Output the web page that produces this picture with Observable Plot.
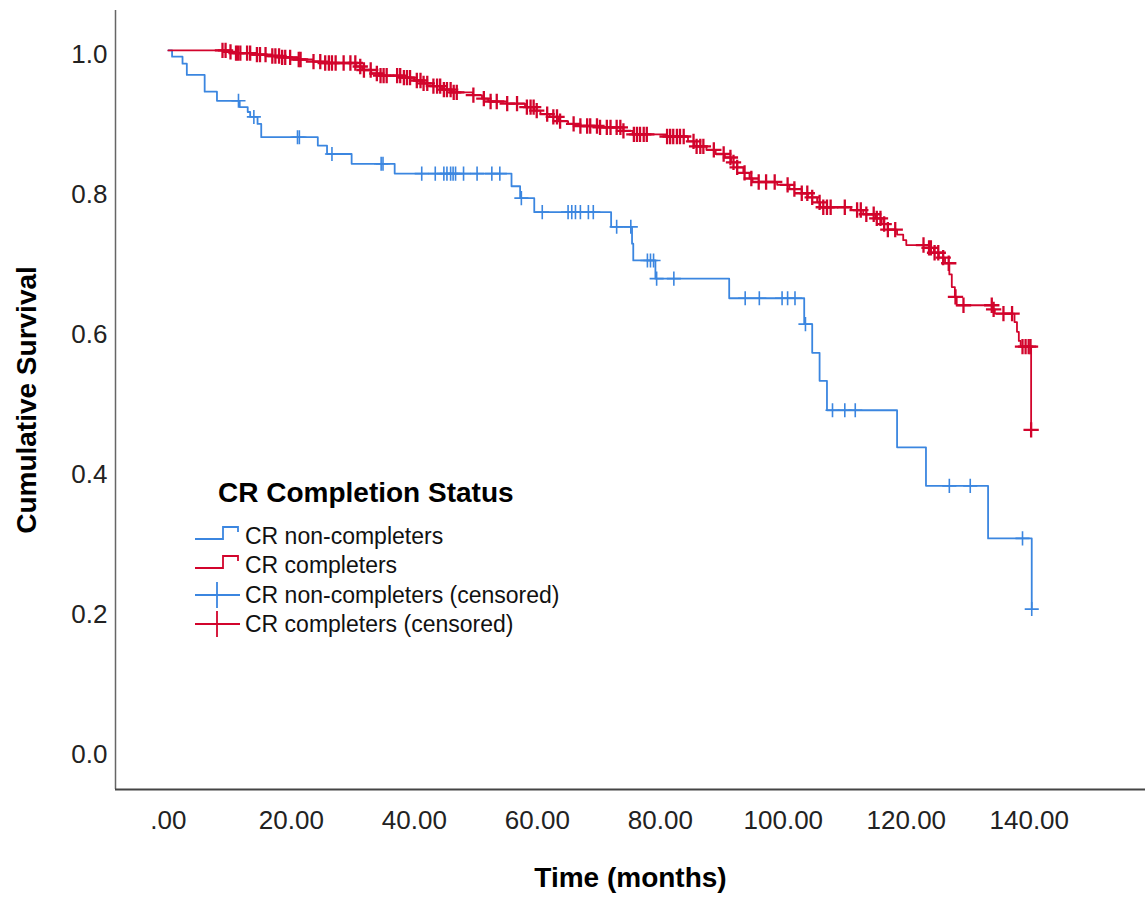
<!DOCTYPE html>
<html>
<head>
<meta charset="utf-8">
<script src="https://cdn.jsdelivr.net/npm/d3@7"></script>
<script src="https://cdn.jsdelivr.net/npm/@observablehq/plot@0.6"></script>
<style>
  html, body { margin: 0; padding: 0; background: #fff; }
  #wrap { position: relative; width: 1145px; height: 898px; }
  #legend { position: absolute; left: 0; top: 0; pointer-events: none; }
</style>
</head>
<body>
<div id="wrap"></div>
<script>
// ---- data ----
const xTicks = [0, 20, 40, 60, 80, 100, 120, 140];
const yTicks = [0, 0.2, 0.4, 0.6, 0.8, 1.0];
const xLabel = "Time (months)";
const yLabel = "Cumulative Survival";
const legendTitle = "CR Completion Status";
const legendLabels = ["CR non-completers", "CR completers", "CR non-completers (censored)", "CR completers (censored)"];

// CR non-completers: step times (months) and survival after step
const blueTime = [0, 0.6, 2.3, 3.0, 5.9, 7.9, 11.6, 12.9, 13.3, 14.5, 15.1, 24.3, 25.8, 29.8, 36.8, 55.8, 57.2, 59.5, 72.0, 75.4, 75.6, 79.2, 91.2, 103.4, 104.7, 105.9, 107.1, 118.5, 123.2, 133.3, 140.4];
const blueSurv = [1.0, 0.991, 0.981, 0.965, 0.941, 0.928, 0.919, 0.912, 0.905, 0.895, 0.876, 0.864, 0.852, 0.838, 0.824, 0.806, 0.789, 0.769, 0.748, 0.724, 0.700, 0.674, 0.646, 0.609, 0.568, 0.528, 0.486, 0.433, 0.378, 0.303, 0.202];
const blueCensor = [11.4, 13.9, 21.0, 21.3, 26.6, 34.6, 34.9, 41.2, 43.4, 44.8, 45.3, 45.9, 46.3, 46.7, 48.0, 50.2, 52.6, 53.9, 57.4, 60.8, 65.0, 65.6, 66.2, 67.0, 68.3, 69.1, 72.9, 75.2, 77.9, 78.4, 78.9, 79.4, 82.2, 93.8, 96.1, 99.8, 100.7, 101.9, 103.6, 108.0, 110.0, 111.7, 127.0, 130.4, 138.9, 140.4];

// CR completers
const redTime = [0, 9.5, 11, 13.5, 16, 18.5, 21, 23.5, 25.5, 30.5, 31.5, 33, 34.5, 38, 40, 41.5, 43, 44.5, 46, 49.5, 51, 52, 55, 58, 59.5, 60.5, 62, 63.5, 65, 67, 70, 74, 75.5, 81, 84.5, 85.5, 87.5, 89, 90.5, 91.5, 92.5, 93.5, 94.5, 95, 99, 101, 103, 104, 105.5, 106, 111, 113, 115, 116, 117, 118.5, 119.5, 120, 123.7, 124.5, 125.3, 126.3, 127, 127.4, 127.9, 128.2, 134, 134.4, 137.6, 138, 138.3, 138.6, 140.3];
const redSurv = [1.0, 0.998, 0.996, 0.994, 0.992, 0.990, 0.987, 0.984, 0.982, 0.977, 0.972, 0.967, 0.964, 0.961, 0.957, 0.953, 0.949, 0.944, 0.940, 0.936, 0.931, 0.927, 0.924, 0.919, 0.914, 0.909, 0.905, 0.899, 0.895, 0.892, 0.890, 0.885, 0.880, 0.877, 0.870, 0.863, 0.858, 0.852, 0.847, 0.840, 0.833, 0.825, 0.817, 0.812, 0.808, 0.802, 0.796, 0.790, 0.783, 0.776, 0.772, 0.766, 0.760, 0.752, 0.744, 0.737, 0.729, 0.722, 0.718, 0.711, 0.704, 0.696, 0.680, 0.662, 0.648, 0.636, 0.630, 0.624, 0.612, 0.598, 0.585, 0.577, 0.458];
const redCensor = [8.8, 9.3, 10.1, 11.0, 11.3, 11.7, 12.8, 13.3, 14.4, 14.9, 15.8, 16.9, 17.4, 18.0, 18.5, 19.0, 19.8, 21.2, 21.5, 23.6, 24.7, 25.5, 26.1, 26.6, 27.2, 28.5, 29.6, 30.4, 31.2, 31.8, 32.9, 33.9, 34.5, 35.0, 35.5, 37.2, 37.7, 38.3, 38.8, 39.3, 40.4, 41.0, 41.5, 42.1, 43.1, 43.7, 44.2, 44.8, 45.3, 45.9, 46.4, 46.9, 49.6, 51.3, 52.4, 53.4, 55.1, 56.7, 58.3, 58.9, 59.4, 59.9, 61.6, 62.6, 63.2, 63.7, 65.9, 67.0, 68.1, 68.6, 69.7, 70.2, 71.3, 71.9, 72.9, 73.5, 74.0, 75.7, 76.2, 76.7, 77.3, 77.8, 81.1, 81.6, 82.1, 82.7, 83.2, 83.8, 85.4, 85.9, 86.5, 87.0, 88.7, 90.3, 91.4, 91.9, 92.5, 93.7, 94.8, 96.0, 97.2, 98.6, 100.7, 101.8, 103.0, 103.9, 104.7, 105.9, 106.5, 107.1, 107.7, 110.0, 112.0, 112.6, 113.5, 114.7, 115.2, 115.8, 116.4, 117.0, 118.2, 122.8, 123.7, 124.0, 124.6, 125.2, 126.0, 126.9, 128.0, 129.3, 133.9, 134.2, 135.8, 137.2, 138.9, 139.4, 139.9, 140.2, 140.3];

const BLUE = "#3b86e0";
const RED = "#d2042c";
const FONT = "'Liberation Sans', Arial, sans-serif";

const xDomain = [-8.6, 158.9];
const yDomain = [-0.0557, 1.057];

function survAt(times, surv, t) {
  let v = surv[0];
  for (let i = 0; i < times.length; i++) if (times[i] <= t + 1e-9) v = surv[i];
  return v;
}
const blue = blueTime.map((t, i) => ({t, s: blueSurv[i]}));
const red = redTime.map((t, i) => ({t, s: redSurv[i]}));
const blueC = blueCensor.map(t => ({t, s: survAt(blueTime, blueSurv, t)}));
const redC = redCensor.map(t => ({t, s: survAt(redTime, redSurv, t)}));

const chart = Plot.plot({
  width: 1145,
  height: 898,
  marginLeft: 115,
  marginRight: 0,
  marginTop: 10,
  marginBottom: 109,
  x: {domain: xDomain},
  y: {domain: yDomain},
  style: {fontFamily: FONT, fontSize: "26px", background: "#fff", color: "#222"},
  marks: [
    Plot.axisX(xTicks, {tickSize: 0, tickPadding: 21, tickFormat: d => d === 0 ? ".00" : d.toFixed(2), label: null}),
    Plot.axisY(yTicks, {tickSize: 0, tickPadding: 8, tickFormat: d3.format(".1f"), label: null, dy: 4}),
    Plot.ruleX([xDomain[0]], {stroke: "#666", strokeWidth: 1.5}),
    Plot.ruleY([yDomain[0]], {stroke: "#444", strokeWidth: 2}),
    Plot.line(blue, {x: "t", y: "s", curve: "step-after", stroke: BLUE, strokeWidth: 1.8}),
    Plot.line(red, {x: "t", y: "s", curve: "step-after", stroke: RED, strokeWidth: 1.8}),
    Plot.dot(blueC, {x: "t", y: "s", symbol: "plus", r: 4.6, stroke: BLUE, strokeWidth: 1.6}),
    Plot.dot(redC, {x: "t", y: "s", symbol: "plus", r: 5, stroke: RED, strokeWidth: 2.3}),
    Plot.text([xLabel], {text: d => d, frameAnchor: "bottom", lineAnchor: "middle", dy: 89, fontSize: 28, fontWeight: "bold", fill: "#000"}),
    Plot.text([yLabel], {text: d => d, frameAnchor: "left", textAnchor: "middle", rotate: -90, dx: -88, fontSize: 28, fontWeight: "bold", fill: "#000"})
  ]
});
const wrap = document.getElementById("wrap");
wrap.appendChild(chart);

// ---- legend (overlaid inside the plot area) ----
const legendColors = [BLUE, RED, BLUE, RED];
const legendKinds = ["step", "step", "cross", "cross"];
const lg = d3.select(wrap).append("svg").attr("id", "legend")
  .attr("width", 1145).attr("height", 898)
  .style("font-family", FONT);
lg.append("text").attr("x", 218).attr("y", 502)
  .attr("font-size", 28).attr("font-weight", "bold").attr("fill", "#000")
  .text(legendTitle);
const rowY = [536, 565, 595, 624];
legendLabels.forEach((lab, i) => {
  const y = rowY[i];
  if (legendKinds[i] === "step") {
    lg.append("path").attr("d", `M195,${y + 3}H223V${y - 9}H238V${y - 4}`)
      .attr("fill", "none").attr("stroke", legendColors[i]).attr("stroke-width", 1.8);
  } else {
    lg.append("path").attr("d", `M195,${y}H240M217,${y - 13}V${y + 13}`)
      .attr("fill", "none").attr("stroke", legendColors[i]).attr("stroke-width", 1.8);
  }
  lg.append("text").attr("x", 245).attr("y", y + 8)
    .attr("font-size", 23).attr("fill", "#111").text(lab);
});
</script>
</body>
</html>
